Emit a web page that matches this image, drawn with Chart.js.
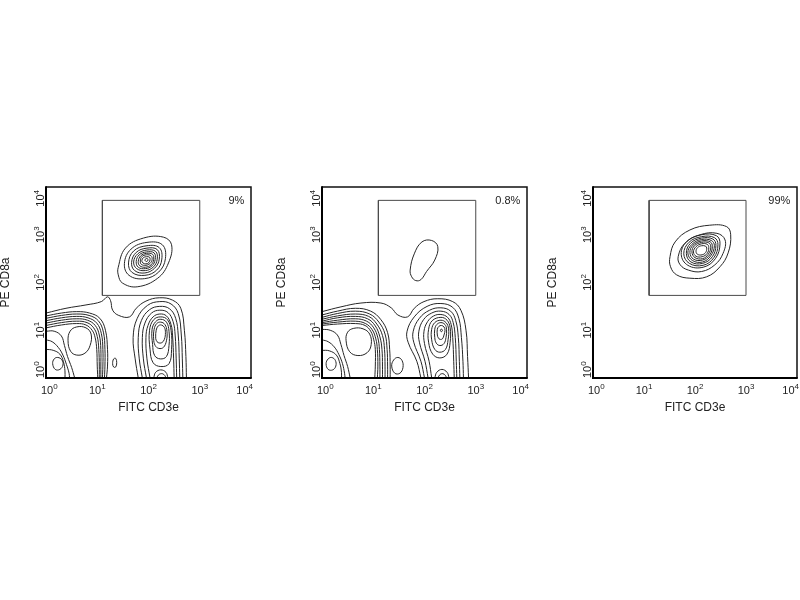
<!DOCTYPE html>
<html>
<head>
<meta charset="utf-8">
<script src="https://cdn.jsdelivr.net/npm/chart.js@4.4.1/dist/chart.umd.min.js"></script>
<style>
  body { margin: 0; background: #fff; width: 800px; height: 600px; overflow: hidden; position: relative; }
  canvas { position: absolute; top: 170px; }
</style>
</head>
<body>
<canvas id="c1" width="258" height="250" style="left:0px"></canvas>
<canvas id="c2" width="258" height="250" style="left:276px"></canvas>
<canvas id="c3" width="258" height="250" style="left:547px"></canvas>
<script>
// axes are in decades (10^0 .. 10^4)
const decades = [0, 1, 2, 3, 4];
const xTitle = "FITC CD3e";
const yTitle = "PE CD8a";
const gateX = [1.1, 3.0];
const gateY = [1.73, 3.72];
const gatePercent = ["9%", "0.8%", "99%"];

// ---- panel 1 ----
const p1GateRings = [
  [1.41,2.32, 1.55,2.72, 1.90,2.93, 2.29,2.95, 2.45,2.79, 2.39,2.41, 2.18,2.09, 1.78,1.91, 1.49,1.99, 1.41,2.16],
  [1.53,2.40, 1.66,2.70, 1.97,2.84, 2.27,2.79, 2.33,2.50, 2.20,2.22, 1.92,2.08, 1.62,2.15],
  [1.61,2.41, 1.71,2.66, 1.97,2.77, 2.21,2.73, 2.26,2.49, 2.16,2.26, 1.93,2.15, 1.68,2.21],
  [1.67,2.42, 1.76,2.63, 1.97,2.72, 2.17,2.69, 2.21,2.49, 2.12,2.30, 1.93,2.20, 1.73,2.25],
  [1.71,2.43, 1.79,2.60, 1.97,2.68, 2.14,2.65, 2.17,2.49, 2.10,2.33, 1.94,2.25, 1.77,2.29],
  [1.76,2.44, 1.82,2.58, 1.96,2.64, 2.11,2.62, 2.13,2.48, 2.07,2.35, 1.94,2.29, 1.80,2.32],
  [1.80,2.44, 1.85,2.56, 1.96,2.61, 2.08,2.59, 2.10,2.48, 2.05,2.37, 1.94,2.32, 1.83,2.35],
  [1.84,2.45, 1.87,2.54, 1.96,2.58, 2.05,2.56, 2.07,2.48, 2.03,2.40, 1.95,2.36, 1.86,2.38],
  [1.87,2.46, 1.90,2.52, 1.96,2.54, 2.02,2.53, 2.03,2.48, 2.01,2.42, 1.95,2.39, 1.89,2.41],
  [1.93,2.47, 1.95,2.50, 1.98,2.50, 1.99,2.47, 1.97,2.44, 1.94,2.45]
];
const p1Outer = [
  [0,1.36, 0.39,1.46, 0.78,1.53, 1.08,1.60, 1.20,1.70, 1.26,1.62, 1.30,1.42, 1.42,1.31, 1.63,1.28,
   1.76,1.46, 1.95,1.61, 2.21,1.68, 2.47,1.63, 2.63,1.46, 2.70,1.00, 2.73,0.45, 2.74,0]
];
const p1TcellArcs = [
  [1.80,0, 1.74,0.40, 1.70,0.85, 1.78,1.25, 1.98,1.52, 2.22,1.60, 2.44,1.55, 2.58,1.35, 2.64,0.90, 2.66,0.40, 2.67,0],
  [1.88,0, 1.82,0.40, 1.80,0.85, 1.86,1.20, 2.02,1.43, 2.22,1.50, 2.41,1.45, 2.53,1.25, 2.58,0.90, 2.60,0.40, 2.61,0],
  [1.96,0, 1.90,0.40, 1.88,0.85, 1.93,1.15, 2.06,1.36, 2.22,1.42, 2.38,1.37, 2.48,1.18, 2.52,0.90, 2.54,0.40, 2.55,0],
  [2.03,0, 1.97,0.40, 1.95,0.85, 1.99,1.10, 2.09,1.28, 2.22,1.34, 2.35,1.30, 2.44,1.12, 2.47,0.88, 2.49,0.40, 2.50,0],
  [2.10,0, 2.14,0.12, 2.24,0.17, 2.34,0.12, 2.38,0],
  [2.16,0, 2.20,0.07, 2.27,0.09, 2.32,0.05, 2.34,0]
];
const p1TcellRings = [
  [2.03,0.60, 2.02,1.00, 2.10,1.22, 2.24,1.28, 2.37,1.22, 2.44,1.00, 2.45,0.60, 2.40,0.30, 2.24,0.24, 2.09,0.32],
  [2.08,0.70, 2.07,1.02, 2.14,1.18, 2.24,1.23, 2.35,1.17, 2.40,0.98, 2.40,0.68, 2.35,0.45, 2.23,0.40, 2.12,0.47],
  [2.10,0.82, 2.11,1.02, 2.16,1.14, 2.24,1.17, 2.32,1.12, 2.36,0.98, 2.35,0.78, 2.29,0.64, 2.20,0.62, 2.13,0.68],
  [2.14,0.86, 2.15,1.00, 2.19,1.09, 2.25,1.11, 2.31,1.06, 2.33,0.95, 2.31,0.81, 2.26,0.74, 2.19,0.74, 2.15,0.79]
];
const p1Arches = [
  [0,1.30, 0.3,1.36, 0.6,1.39, 0.85,1.36, 1.05,1.25, 1.16,1.00, 1.20,0.60, 1.20,0.25, 1.18,0],
  [0,1.25, 0.3,1.31, 0.6,1.34, 0.84,1.31, 1.02,1.20, 1.12,0.96, 1.15,0.60, 1.15,0.25, 1.14,0],
  [0,1.20, 0.3,1.26, 0.6,1.29, 0.82,1.26, 0.99,1.15, 1.08,0.93, 1.11,0.60, 1.11,0.25, 1.10,0],
  [0,1.15, 0.3,1.21, 0.6,1.24, 0.81,1.21, 0.96,1.10, 1.04,0.90, 1.07,0.60, 1.07,0.25, 1.07,0],
  [0,1.10, 0.3,1.16, 0.6,1.19, 0.80,1.16, 0.93,1.05, 1.00,0.87, 1.03,0.60, 1.04,0.25, 1.04,0],
  [0,1.05, 0.3,1.11, 0.6,1.14, 0.78,1.11, 0.90,1.00, 0.96,0.84, 0.99,0.60, 1.00,0.25, 1.01,0],
  [0,0.98, 0.16,0.98, 0.30,0.88, 0.36,0.68, 0.42,0.45, 0.50,0.22, 0.56,0],
  [0,0.80, 0.12,0.76, 0.24,0.64, 0.33,0.48, 0.40,0.28, 0.45,0.10, 0.46,0],
  [0,0.60, 0.14,0.58, 0.27,0.50, 0.34,0.34, 0.37,0.15, 0.37,0]
];
const p1Loops = [
  [0.43,0.78, 0.47,0.98, 0.60,1.07, 0.78,1.05, 0.88,0.92, 0.86,0.68, 0.76,0.52, 0.60,0.48, 0.48,0.56],
  [0.13,0.30, 0.16,0.40, 0.23,0.43, 0.31,0.38, 0.33,0.27, 0.27,0.18, 0.18,0.18],
  [1.30,0.30, 1.32,0.40, 1.36,0.41, 1.38,0.32, 1.36,0.23, 1.32,0.23]
];

// ---- panel 2 ----
const p2GateRings = [
  [1.72,2.26, 1.80,2.60, 1.95,2.85, 2.14,2.88, 2.26,2.75, 2.20,2.47, 2.04,2.23, 1.93,2.06, 1.83,2.04, 1.75,2.12]
];
const p2Outer = [
  [0,1.39, 0.37,1.49, 0.76,1.57, 1.15,1.57, 1.35,1.47, 1.48,1.32, 1.67,1.28, 1.80,1.46, 1.99,1.60,
   2.26,1.66, 2.55,1.60, 2.71,1.42, 2.81,1.00, 2.84,0.45, 2.86,0]
];
const p2TcellArcs = [
  [1.93,0, 1.85,0.35, 1.68,0.75, 1.66,0.98, 1.80,1.28, 2.05,1.50, 2.32,1.56, 2.55,1.48, 2.67,1.25, 2.72,0.85, 2.75,0.35, 2.76,0],
  [2.00,0, 1.93,0.35, 1.79,0.75, 1.78,0.98, 1.90,1.25, 2.10,1.42, 2.32,1.47, 2.51,1.40, 2.61,1.20, 2.66,0.85, 2.68,0.35, 2.69,0],
  [2.07,0, 2.01,0.35, 1.90,0.75, 1.89,0.98, 1.98,1.22, 2.14,1.36, 2.32,1.40, 2.48,1.33, 2.56,1.16, 2.60,0.85, 2.62,0.35, 2.63,0],
  [2.14,0, 2.09,0.35, 2.00,0.72, 1.99,0.98, 2.06,1.18, 2.18,1.30, 2.32,1.33, 2.45,1.27, 2.52,1.12, 2.55,0.85, 2.57,0.35, 2.58,0],
  [2.20,0, 2.24,0.12, 2.34,0.18, 2.44,0.12, 2.48,0],
  [2.26,0, 2.30,0.07, 2.36,0.09, 2.41,0.05, 2.43,0]
];
const p2TcellRings = [
  [2.08,0.75, 2.08,1.02, 2.15,1.20, 2.32,1.27, 2.44,1.21, 2.50,1.05, 2.50,0.75, 2.44,0.50, 2.30,0.42, 2.16,0.50],
  [2.14,0.80, 2.14,1.02, 2.20,1.16, 2.32,1.21, 2.42,1.16, 2.47,1.03, 2.46,0.80, 2.41,0.60, 2.30,0.54, 2.20,0.60],
  [2.20,0.85, 2.20,1.02, 2.24,1.12, 2.32,1.16, 2.40,1.12, 2.43,1.02, 2.42,0.85, 2.38,0.72, 2.30,0.68, 2.23,0.73],
  [2.25,0.90, 2.25,1.02, 2.28,1.08, 2.33,1.10, 2.38,1.07, 2.40,1.00, 2.38,0.90, 2.35,0.82, 2.30,0.81, 2.27,0.84],
  [2.31,0.99, 2.32,1.02, 2.34,1.02, 2.35,0.99, 2.33,0.97]
];
const p2Arches = [
  [0,1.32, 0.3,1.40, 0.65,1.46, 0.95,1.40, 1.15,1.22, 1.28,0.95, 1.32,0.60, 1.33,0.25, 1.33,0],
  [0,1.27, 0.3,1.35, 0.65,1.40, 0.93,1.34, 1.11,1.17, 1.23,0.92, 1.27,0.60, 1.28,0.25, 1.28,0],
  [0,1.23, 0.3,1.30, 0.65,1.34, 0.91,1.29, 1.07,1.13, 1.18,0.89, 1.22,0.60, 1.23,0.25, 1.23,0],
  [0,1.19, 0.3,1.26, 0.65,1.29, 0.89,1.24, 1.04,1.09, 1.13,0.86, 1.17,0.60, 1.18,0.25, 1.18,0],
  [0,1.16, 0.3,1.21, 0.65,1.24, 0.87,1.19, 1.01,1.05, 1.09,0.84, 1.12,0.60, 1.13,0.25, 1.13,0],
  [0,1.13, 0.3,1.17, 0.65,1.19, 0.85,1.14, 0.98,1.01, 1.05,0.82, 1.08,0.60, 1.09,0.25, 1.08,0],
  [0,1.10, 0.3,1.13, 0.65,1.14, 0.84,1.10, 0.95,0.98, 1.01,0.80, 1.04,0.60, 1.04,0.25, 1.03,0],
  [0,1.02, 0.16,1.00, 0.30,0.90, 0.37,0.70, 0.43,0.47, 0.50,0.24, 0.55,0],
  [0,0.80, 0.12,0.76, 0.24,0.65, 0.33,0.49, 0.40,0.30, 0.44,0.10, 0.45,0],
  [0,0.58, 0.14,0.57, 0.28,0.48, 0.35,0.30, 0.38,0.12, 0.38,0]
];
const p2Loops = [
  [0.47,0.78, 0.50,0.96, 0.62,1.04, 0.80,1.03, 0.93,0.92, 0.96,0.70, 0.88,0.53, 0.70,0.47, 0.54,0.55],
  [0.08,0.30, 0.12,0.40, 0.19,0.43, 0.26,0.37, 0.27,0.25, 0.21,0.17, 0.12,0.18],
  [1.36,0.25, 1.40,0.38, 1.48,0.43, 1.56,0.37, 1.58,0.22, 1.52,0.10, 1.42,0.10]
];

// ---- panel 3 ----
const p3GateRings = [
  [1.51,2.54, 1.61,2.85, 1.90,3.10, 2.29,3.20, 2.62,3.17, 2.70,3.00, 2.65,2.62, 2.49,2.33, 2.23,2.12, 1.90,2.09, 1.64,2.16, 1.52,2.33],
  [1.67,2.54, 1.80,2.82, 2.10,3.00, 2.43,3.03, 2.59,2.89, 2.55,2.61, 2.39,2.37, 2.13,2.23, 1.87,2.26, 1.71,2.37],
  [1.73,2.59, 1.84,2.86, 2.13,3.00, 2.42,2.98, 2.49,2.81, 2.40,2.50, 2.16,2.32, 1.86,2.36],
  [1.78,2.60, 1.88,2.84, 2.13,2.96, 2.38,2.94, 2.45,2.79, 2.37,2.52, 2.16,2.36, 1.89,2.40],
  [1.83,2.61, 1.91,2.82, 2.13,2.93, 2.35,2.91, 2.41,2.78, 2.34,2.54, 2.15,2.40, 1.92,2.43],
  [1.86,2.62, 1.94,2.80, 2.13,2.90, 2.32,2.88, 2.38,2.77, 2.31,2.56, 2.15,2.43, 1.95,2.46],
  [1.90,2.63, 1.96,2.78, 2.13,2.87, 2.30,2.85, 2.34,2.75, 2.29,2.58, 2.15,2.47, 1.97,2.49],
  [1.94,2.64, 1.99,2.77, 2.13,2.84, 2.27,2.83, 2.31,2.74, 2.26,2.59, 2.15,2.50, 2.00,2.52],
  [1.97,2.64, 2.02,2.75, 2.13,2.81, 2.24,2.80, 2.27,2.73, 2.24,2.61, 2.14,2.54, 2.02,2.55],
  [2.02,2.65, 2.05,2.73, 2.13,2.77, 2.21,2.76, 2.23,2.72, 2.21,2.63, 2.14,2.58, 2.05,2.59]
];

const family = "'Liberation Sans', Arial, Helvetica, sans-serif";
const lineColor = "#262626";
const gateColor = "#4a4a4a";

function toPoints(flat) {
  const pts = [];
  for (let i = 0; i < flat.length; i += 2) {
    pts.push({ x: flat[i], y: flat[i + 1] });
  }
  return pts;
}

function openLine(flat) {
  return { data: toPoints(flat), borderColor: lineColor, borderWidth: 1, tension: 0.4, pointRadius: 0 };
}

// closed loop: wrap the ends so the spline is smooth, then hide the two extra segments
function closedLine(flat) {
  const p = toPoints(flat);
  const n = p.length;
  return {
    data: [p[n - 1]].concat(p, [p[0], p[1]]),
    borderColor: lineColor,
    borderWidth: 1,
    tension: 0.4,
    pointRadius: 0,
    segment: {
      borderColor: (c) => (c.p0DataIndex === 0 || c.p1DataIndex === n + 2) ? "rgba(0,0,0,0)" : lineColor,
    },
  };
}

function gateBox() {
  return {
    data: [
      { x: gateX[0], y: gateY[0] }, { x: gateX[1], y: gateY[0] },
      { x: gateX[1], y: gateY[1] }, { x: gateX[0], y: gateY[1] },
      { x: gateX[0], y: gateY[0] },
    ],
    borderColor: gateColor, borderWidth: 1, tension: 0, pointRadius: 0,
  };
}

const facsLabels = {
  id: "facsLabels",
  afterDraw(chart, args, opts) {
    const { ctx, chartArea: a, scales: { x, y } } = chart;
    ctx.save();
    // frame: heavy left/bottom, lighter top/right
    ctx.strokeStyle = "#111";
    ctx.lineWidth = 1.5;
    ctx.beginPath();
    ctx.moveTo(a.left, a.top); ctx.lineTo(a.right, a.top); ctx.lineTo(a.right, a.bottom);
    ctx.stroke();
    ctx.strokeStyle = "#000";
    ctx.lineWidth = 2;
    ctx.beginPath();
    ctx.moveTo(a.left, a.top - 0.75); ctx.lineTo(a.left, a.bottom); ctx.lineTo(a.right + 0.75, a.bottom);
    ctx.stroke();

    ctx.fillStyle = "#222";
    ctx.textAlign = "left";
    ctx.textBaseline = "alphabetic";
    decades.forEach((d) => {
      const exp = String(d);
      ctx.font = "11px " + family;
      const w1 = ctx.measureText("10").width;
      ctx.font = "8px " + family;
      const w2 = ctx.measureText(exp).width;
      const half = (w1 + w2) / 2;

      // x tick label
      let lx = x.getPixelForValue(d) - half;
      lx = Math.max(lx, a.left - 5);
      lx = Math.min(lx, a.right + 2 - 2 * half);
      ctx.font = "11px " + family;
      ctx.fillText("10", lx, a.bottom + 16);
      ctx.font = "8px " + family;
      ctx.fillText(exp, lx + w1, a.bottom + 10.5);

      // y tick label, rotated to read upwards
      let cy = y.getPixelForValue(d);
      cy = Math.min(Math.max(cy, a.top + 3 + half), a.bottom - half);
      ctx.save();
      ctx.translate(a.left - 2.5, cy);
      ctx.rotate(-Math.PI / 2);
      ctx.font = "11px " + family;
      ctx.fillText("10", -half, 0);
      ctx.font = "8px " + family;
      ctx.fillText(exp, -half + w1, -5);
      ctx.restore();
    });

    // gate percentage
    ctx.font = "11px " + family;
    ctx.textAlign = "right";
    ctx.textBaseline = "middle";
    ctx.fillText(opts.percent, x.getPixelForValue(3.87), y.getPixelForValue(3.71));
    ctx.restore();
  },
};

function makePanel(id, sets, percent, padRight) {
  const datasets = [gateBox()];
  sets.open.forEach((f) => datasets.push(openLine(f)));
  sets.closed.forEach((f) => datasets.push(closedLine(f)));
  return new Chart(document.getElementById(id), {
    type: "line",
    data: { datasets: datasets },
    options: {
      responsive: false,
      animation: false,
      events: [],
      layout: { padding: { top: 17, right: padRight, left: 0, bottom: 0 } },
      plugins: {
        legend: { display: false },
        tooltip: { enabled: false },
        facsLabels: { percent: percent },
      },
      scales: {
        x: {
          type: "linear", min: 0, max: 4,
          grid: { display: false }, border: { display: false },
          ticks: { display: false },
          title: { display: true, text: xTitle, color: "#222", font: { family: family, size: 12, lineHeight: 1 }, padding: { top: 0, bottom: 6 } },
          afterFit: (s) => { s.height = 42; },
        },
        y: {
          type: "linear", min: 0, max: 4,
          grid: { display: false }, border: { display: false },
          ticks: { display: false },
          title: { display: true, text: yTitle, color: "#222", font: { family: family, size: 12, lineHeight: 1 }, padding: { top: -0.5, bottom: 0 } },
          afterFit: (s) => { s.width = 46; },
        },
      },
    },
    plugins: [facsLabels],
  });
}

makePanel("c1", {
  open: p1Outer.concat(p1TcellArcs, p1Arches),
  closed: p1GateRings.concat(p1TcellRings, p1Loops),
}, gatePercent[0], 7);

makePanel("c2", {
  open: p2Outer.concat(p2TcellArcs, p2Arches),
  closed: p2GateRings.concat(p2TcellRings, p2Loops),
}, gatePercent[1], 7);

makePanel("c3", {
  open: [],
  closed: p3GateRings,
}, gatePercent[2], 8);
</script>
</body>
</html>
